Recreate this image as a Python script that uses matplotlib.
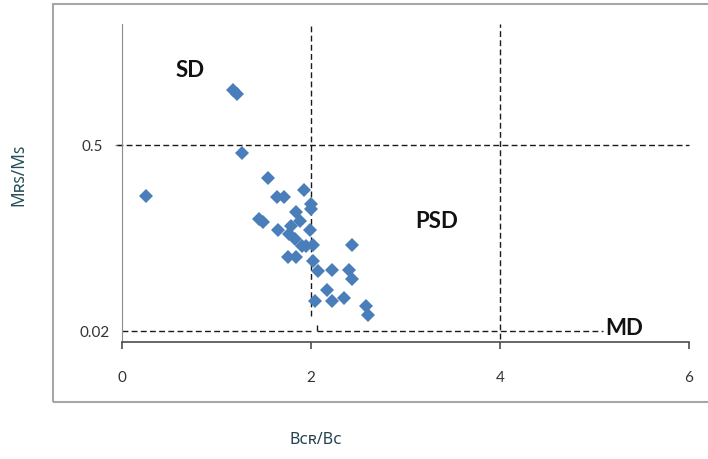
"""Day plot: squareness Mrs/Ms against coercivity ratio Bcr/Bc."""

import matplotlib
matplotlib.use("Agg")
import matplotlib.pyplot as plt
from matplotlib.patches import Rectangle

plt.rcParams['font.family'] = ['Lato', 'DejaVu Sans']

# Bcr/Bc and Mrs/Ms for each sample
bcr_bc = [1.17, 1.22, 1.27, 1.54, 0.25, 1.64, 1.71, 1.93, 2.00, 2.00,
          1.45, 1.49, 1.65, 1.84, 1.88, 1.79, 1.77, 1.99, 1.83, 1.91,
          1.95, 2.02, 1.76, 1.84, 2.02, 2.43, 2.07, 2.22, 2.40, 2.43,
          2.17, 2.04, 2.22, 2.35, 2.58, 2.60]
mrs_ms = [0.642, 0.632, 0.479, 0.415, 0.368, 0.366, 0.366, 0.384, 0.348, 0.335,
          0.309, 0.301, 0.281, 0.327, 0.304, 0.291, 0.270, 0.281, 0.258, 0.240,
          0.240, 0.243, 0.211, 0.211, 0.200, 0.242, 0.175, 0.177, 0.177, 0.154,
          0.126, 0.097, 0.097, 0.104, 0.085, 0.062]

# domain boundaries and region names
sd_limit = 0.5
md_limit = 0.02
psd_left = 2
psd_right = 4
regions = {'SD': (0.72, 0.694), 'PSD': (3.33, 0.306), 'MD': (5.31, 0.028)}

fig = plt.figure(figsize=(7.08, 4.60), dpi=100)
fig.patches.append(Rectangle((53 / 708, 57 / 460), 1.0, 398 / 460,
                             transform=fig.transFigure, fill=False,
                             edgecolor='#a6a6a6', linewidth=1.5))

ax = fig.add_axes([122 / 708, 117 / 460, 567 / 708, 318 / 460])
ax.set_xlim(0, 6)
ax.set_ylim(-0.0084, 0.812)

dash = dict(color='#1a1a1a', linewidth=1.0, dashes=(4.2, 2.4))
ax.plot([-0.055, 6], [sd_limit, sd_limit], clip_on=False, **dash)
ax.plot([psd_left, psd_left], [0.059, 0.812], **dash)
ax.plot([psd_right, psd_right], [0.0, 0.812], **dash)
ax.plot([0, psd_left], [md_limit, md_limit], **dash)
ax.plot([2.065, 2.065], [0.036, md_limit], **dash)
ax.plot([2.065, 5.09], [md_limit, md_limit], **dash)

ax.plot(bcr_bc, mrs_ms, linestyle='none', marker='D', markersize=7.0,
        color='#4a7ebb', markeredgewidth=0, zorder=3)

for name, (x, y) in regions.items():
    ax.text(x, y, name, fontsize=16, fontweight='bold', color='#111111',
            ha='center', va='center')

for side in ('top', 'right'):
    ax.spines[side].set_visible(False)
ax.spines['left'].set_color('#8c8c8c')
ax.spines['bottom'].set_color('#4d4d4d')
ax.spines['bottom'].set_linewidth(1.2)

ax.set_xticks([0, 2, 4, 6])
ax.tick_params(axis='x', direction='out', length=5, width=1.2,
               color='#4d4d4d', labelcolor='#333333', labelsize=11, pad=15)

ax.set_yticks([md_limit, sd_limit], ['0.02', '0.5'])
ax.tick_params(axis='y', direction='out', length=5, width=1,
               color='#8c8c8c', labelcolor='#333333', labelsize=11)
low_tick, high_tick = ax.yaxis.get_major_ticks()
low_tick.tick1line.set_visible(False)
low_tick.set_pad(4.0)
high_tick.set_pad(9.0)

label_font = ['Noto Sans', 'DejaVu Sans']
fig.text(316 / 708, 1 - 440 / 460, 'Bᴄʀ/Bᴄ', family=label_font, fontsize=11.5,
         color='#26424d', ha='center', va='center')
fig.text(18 / 708, 1 - 175 / 460, 'Mʀꜱ/Mꜱ', family=label_font, fontsize=12.5,
         color='#224e5a', rotation=90, ha='center', va='center')

fig.savefig('out.png', dpi=100, facecolor='white')
